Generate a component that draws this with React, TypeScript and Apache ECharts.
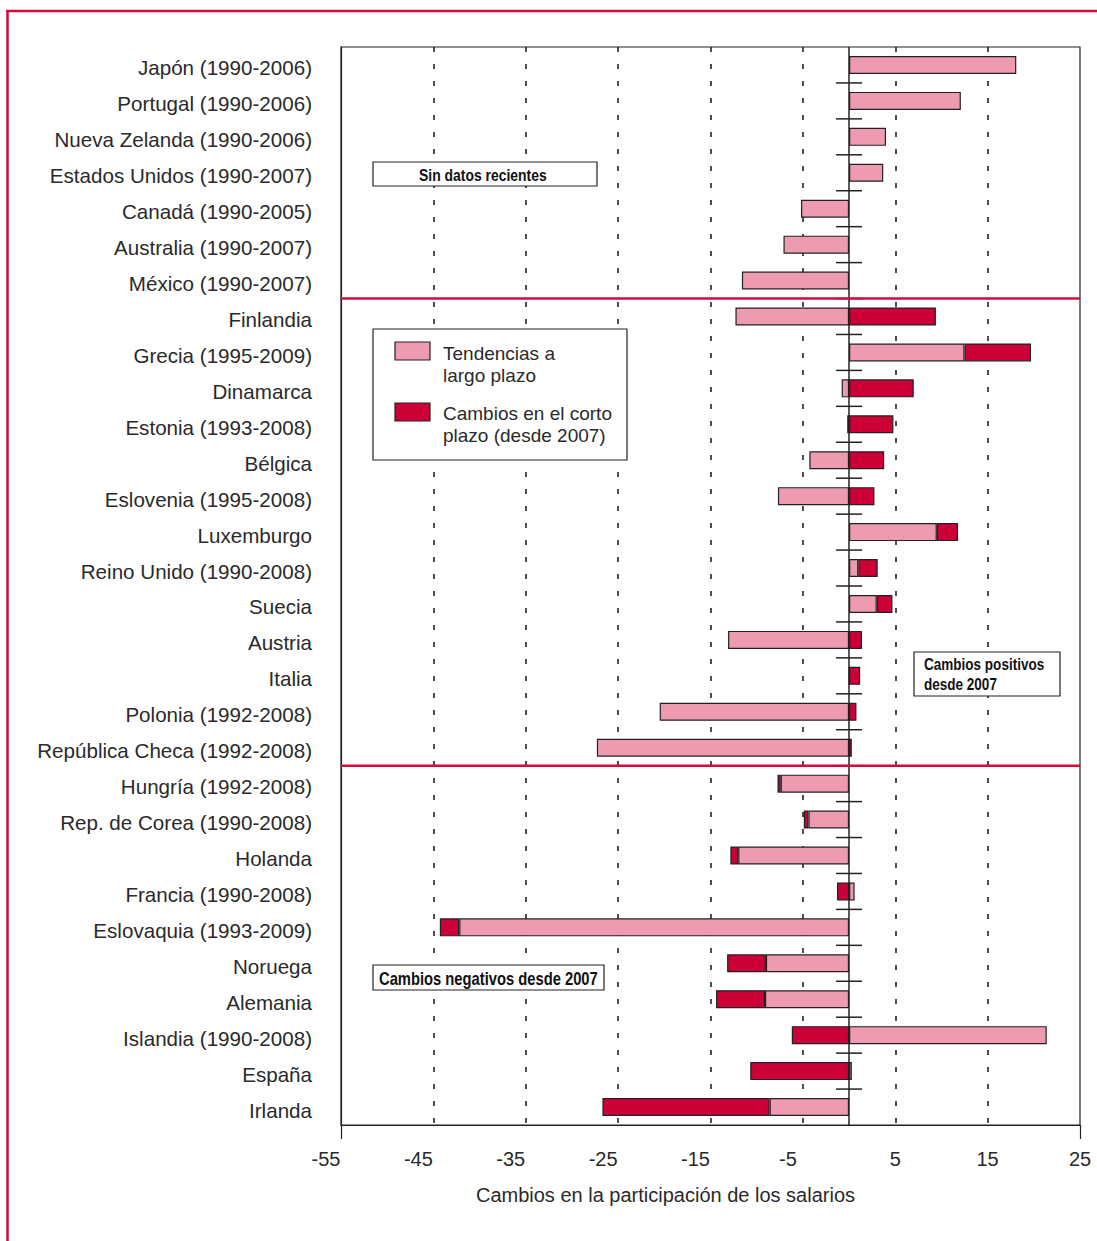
import React, { useEffect, useRef } from "react";
import * as echarts from "echarts";

const categories = [
  "Japón (1990-2006)",
  "Portugal (1990-2006)",
  "Nueva Zelanda (1990-2006)",
  "Estados Unidos (1990-2007)",
  "Canadá (1990-2005)",
  "Australia (1990-2007)",
  "México (1990-2007)",
  "Finlandia",
  "Grecia (1995-2009)",
  "Dinamarca",
  "Estonia (1993-2008)",
  "Bélgica",
  "Eslovenia (1995-2008)",
  "Luxemburgo",
  "Reino Unido (1990-2008)",
  "Suecia",
  "Austria",
  "Italia",
  "Polonia (1992-2008)",
  "República Checa (1992-2008)",
  "Hungría (1992-2008)",
  "Rep. de Corea (1990-2008)",
  "Holanda",
  "Francia (1990-2008)",
  "Eslovaquia (1993-2009)",
  "Noruega",
  "Alemania",
  "Islandia (1990-2008)",
  "España",
  "Irlanda",
];

const longTerm = [
  18.1, 12.1, 4.0, 3.7, -5.2, -7.1, -11.6,
  -12.3, 12.5, -0.8, -0.2, -4.3, -7.7, 9.5, 1.0, 3.0, -13.1, 0, -20.5, -27.3,
  -7.4, -4.4, -12.0, 0.6, -42.2, -9.0, -9.1, 21.4, 0.3, -8.6,
];

const shortTerm = [
  null, null, null, null, null, null, null,
  9.4, 7.2, 7.0, 4.8, 3.8, 2.75, 2.3, 2.1, 1.7, 1.4, 1.2, 0.8, 0.3,
  -0.35, -0.5, -0.85, -1.3, -2.1, -4.2, -5.3, -6.2, -10.7, -18.1,
];

const seriesNames = ["Tendencias a\nlargo plazo", "Cambios en el corto\nplazo (desde 2007)"];
const separatorsAfter = [6, 19];
const xMin = -55;
const xMax = 25;
const xStep = 10;

const PINK = "#EE9AB0";
const RED = "#CC0036";
const LINE_RED = "#D20A3C";
const INK = "#222";
const TEXT = "#2a2a2a";
const FONT = '"Liberation Sans", Arial, sans-serif';
const BOLD_FONT = '"Liberation Sans", Arial, sans-serif';
const CONDENSE = 0.82;
const TOP_Z = 100;

export default function App() {
  const ref = useRef<HTMLDivElement>(null);

  useEffect(() => {
    if (!ref.current) return;
    const chart = echarts.init(ref.current, null, { renderer: "svg" });

    const boundaryData = categories.slice(0, -1).map((_, i) => [0, i]);
    const separatorData = separatorsAfter.map((i) => [0, i]);

    const boxRect = (x: number, y: number, width: number, height: number) => ({
      type: "rect",
      z: TOP_Z,
      shape: { x, y, width, height },
      style: { fill: "#fff", stroke: INK, lineWidth: 1.2 },
    });

    const boldText = (text: string, x: number, y: number, size: number, extra: any = {}) => ({
      type: "text",
      z: TOP_Z + 1,
      x,
      y,
      scaleX: CONDENSE,
      style: {
        text,
        fontSize: size,
        fontWeight: "bold",
        fontFamily: BOLD_FONT,
        fill: "#111",
        ...extra,
      },
    });

    const option: any = {
      animation: false,
      backgroundColor: "#ffffff",
      grid: {
        left: 341,
        right: 17,
        top: 47,
        bottom: 116,
        show: true,
        borderColor: INK,
        borderWidth: 1.2,
        backgroundColor: "transparent",
      },
      xAxis: [
        {
          type: "value",
          min: xMin,
          max: xMax,
          interval: xStep,
          position: "bottom",
          axisLine: { show: true, onZero: false, lineStyle: { color: INK, width: 1.2 } },
          axisTick: { show: false },
          axisLabel: {
            fontSize: 20,
            color: TEXT,
            margin: 24,
            fontFamily: FONT,
            formatter: (v: number) => (v < 0 ? `{neg|${v}}` : `${v}`),
            rich: { neg: { padding: [0, 30, 0, 0], fontSize: 20, fontFamily: FONT, color: TEXT } },
          },
          splitLine: {
            show: true,
            showMinLine: false,
            showMaxLine: false,
            lineStyle: { type: [5, 12], color: INK, width: 1.6 },
          },
          name: "Cambios en la participación de los salarios",
          nameLocation: "middle",
          nameGap: 60,
          nameTextStyle: { fontSize: 20, color: TEXT, fontFamily: FONT, padding: [0, 90, 0, 0] },
        },
        {
          type: "value",
          min: xMin,
          max: xMax,
          interval: xStep,
          position: "bottom",
          axisLine: { show: false },
          axisLabel: { show: false },
          splitLine: { show: false },
          axisTick: {
            show: true,
            customValues: [xMin, xMax],
            length: 14,
            lineStyle: { color: INK, width: 1.2 },
          },
        },
      ],
      yAxis: {
        type: "category",
        data: categories,
        inverse: true,
        axisLine: { show: true, onZero: false, lineStyle: { color: INK, width: 1.2 } },
        axisTick: { show: false },
        axisLabel: {
          fontSize: 20.6,
          color: TEXT,
          margin: 29,
          fontFamily: FONT,
          verticalAlign: "top",
          lineHeight: 6,
        },
        splitLine: { show: false },
      },
      series: [
        {
          name: seriesNames[0],
          type: "bar",
          stack: "total",
          data: longTerm,
          barWidth: 18,
          itemStyle: { color: PINK, borderColor: INK, borderWidth: 1.2 },
          z: 2,
          markLine: {
            silent: true,
            symbol: "none",
            label: { show: false },
            lineStyle: { color: INK, width: 1.5, type: "solid" },
            data: [{ xAxis: 0 }],
            z: 5,
          },
        },
        {
          name: seriesNames[1],
          type: "bar",
          stack: "total",
          data: shortTerm,
          barWidth: 18,
          itemStyle: { color: RED, borderColor: INK, borderWidth: 1.2 },
          z: 2,
        },
        {
          type: "custom",
          silent: true,
          z: 6,
          encode: { x: 0, y: 1 },
          data: boundaryData,
          renderItem: (params: any, api: any) => {
            const p = api.coord([api.value(0), api.value(1)]);
            const h = api.size([0, 1])[1];
            const y = p[1] + h / 2;
            return {
              type: "line",
              shape: { x1: p[0] - 13, y1: y, x2: p[0] + 13, y2: y },
              style: { stroke: INK, lineWidth: 1.5 },
            };
          },
        },
        {
          type: "custom",
          silent: true,
          z: 8,
          encode: { x: 0, y: 1 },
          data: separatorData,
          renderItem: (params: any, api: any) => {
            const p = api.coord([api.value(0), api.value(1)]);
            const h = api.size([0, 1])[1];
            const y = p[1] + h / 2;
            const cs = params.coordSys;
            return {
              type: "line",
              shape: { x1: cs.x, y1: y, x2: cs.x + cs.width, y2: y },
              style: { stroke: LINE_RED, lineWidth: 2.5 },
            };
          },
        },
      ],
      graphic: [
        // red page frame
        { type: "line", z: TOP_Z, shape: { x1: 6, y1: 11, x2: 1097, y2: 11 }, style: { stroke: LINE_RED, lineWidth: 2.5 } },
        { type: "line", z: TOP_Z, shape: { x1: 7.5, y1: 10, x2: 7.5, y2: 1241 }, style: { stroke: LINE_RED, lineWidth: 2.5 } },
        // legend
        boxRect(373, 329, 254, 131),
        { type: "rect", z: TOP_Z + 1, shape: { x: 395, y: 342, width: 35, height: 18 }, style: { fill: PINK, stroke: INK, lineWidth: 1.2 } },
        {
          type: "text",
          z: TOP_Z + 1,
          x: 443,
          y: 342,
          style: { text: seriesNames[0], fontSize: 19, fontFamily: FONT, fill: TEXT, lineHeight: 22, verticalAlign: "top" },
        },
        { type: "rect", z: TOP_Z + 1, shape: { x: 395, y: 403, width: 35, height: 18 }, style: { fill: RED, stroke: INK, lineWidth: 1.2 } },
        {
          type: "text",
          z: TOP_Z + 1,
          x: 443,
          y: 402,
          style: { text: seriesNames[1], fontSize: 19, fontFamily: FONT, fill: TEXT, lineHeight: 22, verticalAlign: "top" },
        },
        // annotation: sin datos recientes
        boxRect(373, 162, 224, 24),
        boldText("Sin datos recientes", 419, 174.5, 17, { verticalAlign: "middle" }),
        // annotation: cambios positivos
        boxRect(914, 652, 146, 44),
        boldText("Cambios positivos\ndesde 2007", 924, 654, 16.5, { lineHeight: 20, verticalAlign: "top" }),
        // annotation: cambios negativos
        boxRect(373, 965, 231, 25),
        boldText("Cambios negativos desde 2007", 379, 978, 18, { verticalAlign: "middle" }),
      ],
    };

    chart.setOption(option);
    return () => chart.dispose();
  }, []);

  return (
    <div
      ref={ref}
      style={{ position: "absolute", left: 0, top: 0, width: 1097, height: 1241, background: "#fff" }}
    />
  );
}
